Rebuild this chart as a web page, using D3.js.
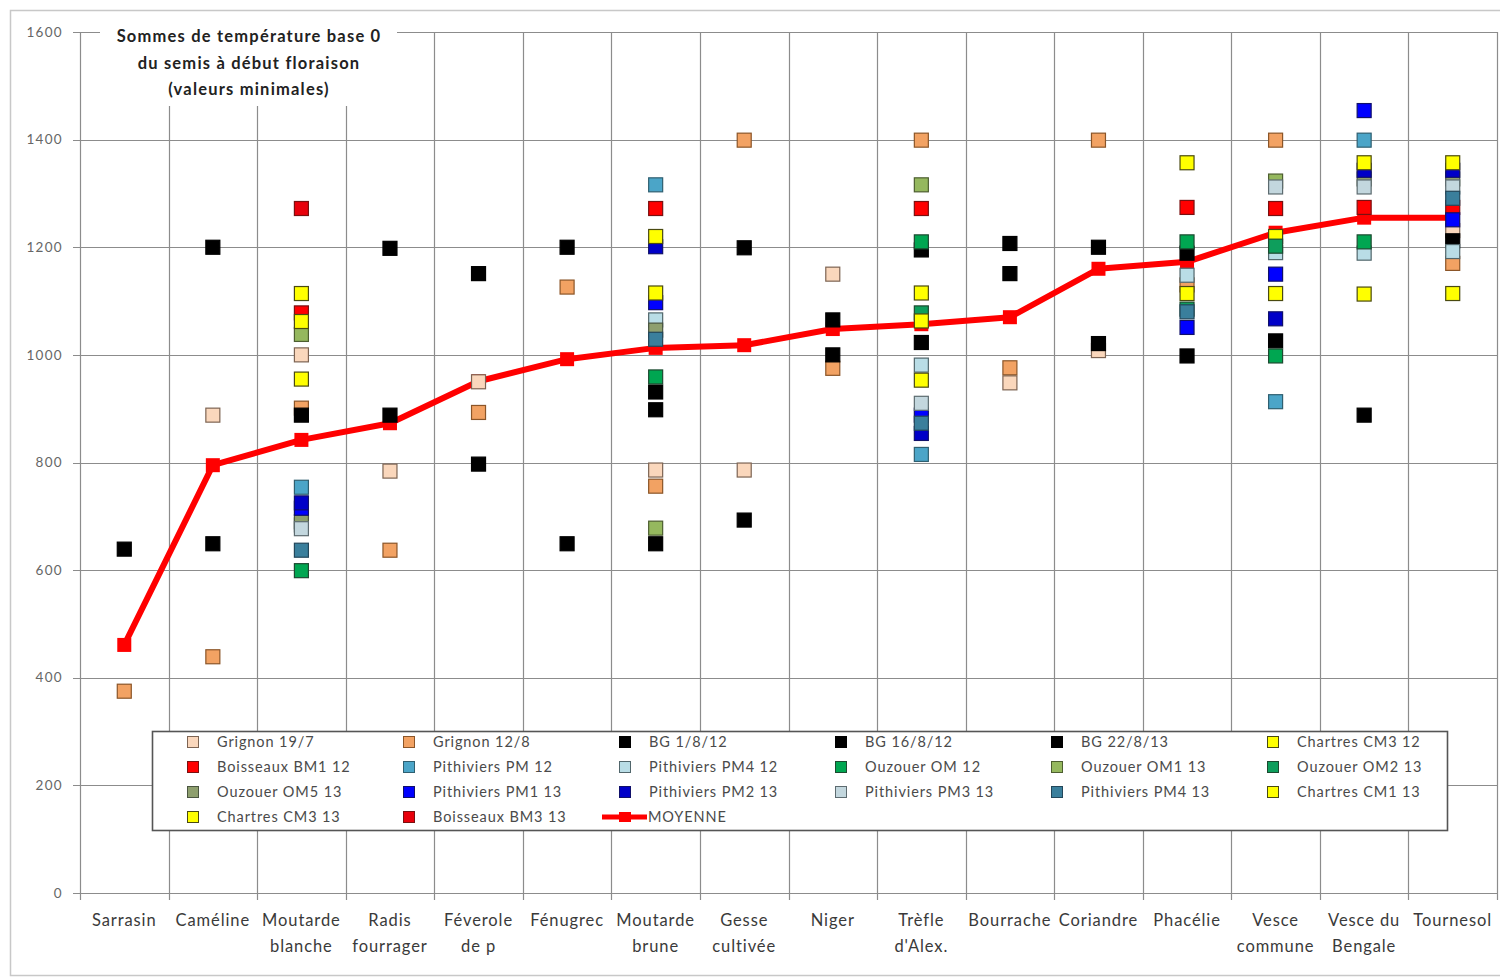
<!DOCTYPE html>
<html>
<head>
<meta charset="utf-8">
<script src="https://cdn.jsdelivr.net/npm/d3@7"></script>
<style>
  html, body { margin: 0; padding: 0; background: #fff; }
  svg { display: block; }
</style>
</head>
<body>
<svg id="chart" width="1500" height="980"></svg>
<script>
// Species (x categories), with their two-line axis labels
const categories = ["Sarrasin","Caméline","Moutarde blanche","Radis fourrager","Féverole de p","Fénugrec","Moutarde brune","Gesse cultivée","Niger","Trèfle d'Alex.","Bourrache","Coriandre","Phacélie","Vesce commune","Vesce du Bengale","Tournesol"];
const categoryLines = [["Sarrasin"],["Caméline"],["Moutarde","blanche"],["Radis","fourrager"],["Féverole","de p"],["Fénugrec"],["Moutarde","brune"],["Gesse","cultivée"],["Niger"],["Trèfle","d'Alex."],["Bourrache"],["Coriandre"],["Phacélie"],["Vesce","commune"],["Vesce du","Bengale"],["Tournesol"]];
const yTicks = [0, 200, 400, 600, 800, 1000, 1200, 1400, 1600];

const _ = null;
// Degree-day sums (base 0) from sowing to start of flowering, per trial
const grignon197     = [_, 888, 1000, 784, 950, _, 786, 786, 1150, _, 948, 1008, _, _, _, 1231];
const grignon128     = [375, 439, 901, 637, 893, 1126, 756, 1399, 975, 1399, 976, 1399, 1130, 1399, _, 1170];
const bg1812         = [639, 1200, 888, 1198, 1151, 1200, 898, 1199, 1065, 1195, 1207, 1200, 1189, 1026, 888, 1212];
const bg16812        = [_, 649, _, 888, 797, 649, 649, 693, 1000, 1023, 1151, 1021, 998, _, _, _];
const bg22813        = [_, _, _, _, _, _, 931, _, _, _, _, _, _, _, _, _];
const chartresCM312  = [_, _, 1114, _, _, _, _, _, _, 1115, _, _, 1357, 1220, _, _];
const boisseauxBM112 = [_, _, 1078, _, _, _, 1272, _, _, 1272, _, _, 1274, 1272, 1274, 1274];
const pithPM12       = [_, _, 754, _, _, _, 1316, _, _, 815, _, _, _, 913, 1399, _];
const pithPM412      = [_, _, 684, _, _, _, 1065, _, _, 981, _, _, 1148, 1190, 1189, 1192];
const ouzOM12        = [_, _, 599, _, _, _, 959, _, _, 1210, _, _, 1210, 998, 1210, _];
const ouzOM113       = [_, _, 1038, _, _, _, 678, _, _, 1316, _, _, _, 1323, _, _];
const ouzOM213       = [_, _, _, _, _, _, _, _, _, 1078, _, _, 1085, 1202, _, _];
const ouzOM513       = [_, _, 690, _, _, _, 1046, _, _, _, _, _, _, _, 1327, 1327];
const pithPM113      = [_, _, 715, _, _, _, 1097, _, _, 888, _, _, 1051, 1150, 1454, 1251];
const pithPM213      = [_, _, 725, _, _, _, 1201, _, _, 854, _, _, _, 1067, 1343, 1343];
const pithPM313      = [_, _, 677, _, _, _, _, _, _, 910, _, _, _, 1312, 1312, 1312];
const pithPM413      = [_, _, 637, _, _, _, 1029, _, _, 873, _, _, 1080, _, _, 1291];
const chartresCM113  = [_, _, 1062, _, _, _, 1220, _, _, 1063, _, _, 1114, 1114, 1113, 1114];
const chartresCM313  = [_, _, 955, _, _, _, 1115, _, _, 953, _, _, _, _, 1357, 1357];
const boisseauxBM313 = [_, _, 1272, _, _, _, _, _, _, _, _, _, _, _, _, _];
// Mean per species
const moyenne        = [461, 795, 842, 873, 951, 992, 1013, 1018, 1048, 1057, 1070, 1160, 1173, 1227, 1255, 1255];

const seriesNames = ["Grignon 19/7","Grignon 12/8","BG 1/8/12","BG 16/8/12","BG 22/8/13","Chartres CM3 12",
  "Boisseaux BM1 12","Pithiviers PM 12","Pithiviers PM4 12","Ouzouer OM 12","Ouzouer OM1 13","Ouzouer OM2 13",
  "Ouzouer OM5 13","Pithiviers PM1 13","Pithiviers PM2 13","Pithiviers PM3 13","Pithiviers PM4 13","Chartres CM1 13",
  "Chartres CM3 13","Boisseaux BM3 13"];
const seriesValues = [grignon197, grignon128, bg1812, bg16812, bg22813, chartresCM312,
  boisseauxBM112, pithPM12, pithPM412, ouzOM12, ouzOM113, ouzOM213,
  ouzOM513, pithPM113, pithPM213, pithPM313, pithPM413, chartresCM113,
  chartresCM313, boisseauxBM313];
const seriesFill = ["#FAD7BC","#F2A263","#000000","#000000","#000000","#FFFF00",
  "#FF0000","#4BA5C8","#B9DDE6","#00A651","#95B85E","#0E9E5C",
  "#8E9F6E","#0000FF","#0000C8","#C3D7DE","#3A7F9C","#FFFF00",
  "#FFFF00","#E8000B"];
const seriesStroke = ["#7d6453","#8b5528","#000000","#000000","#000000","#4a4a10",
  "#7a1010","#2f5f70","#51666b","#1c4a30","#4d5e30","#1c4a30",
  "#4a5540","#10106a","#10106a","#5d6b70","#23475a","#4a4a10",
  "#4a4a10","#7a1010"];

const W = 1500, H = 980;
const svg = d3.select("#chart");
const FONT = "Lato, 'Open Sans', sans-serif";

// Outer chart frame
svg.append("rect").attr("x", 10.5).attr("y", 10.5).attr("width", W).attr("height", 965)
  .attr("fill", "#fff").attr("stroke", "#c8c8c8").attr("stroke-width", 1.5);

const x = d3.scaleBand().domain(categories).range([80, 1497]).padding(0);
const y = d3.scaleLinear().domain([0, 1600]).range([893, 32]);

// Grid
const grid = svg.append("g").attr("stroke", "#8c8c8c").attr("stroke-width", 1.2);
grid.selectAll("line.h").data(yTicks).join("line")
  .attr("x1", 73).attr("x2", 1497)
  .attr("y1", d => Math.round(y(d)) + 0.5).attr("y2", d => Math.round(y(d)) + 0.5);
const bounds = categories.map(c => x(c)).concat([x.range()[1]]);
grid.selectAll("line.v").data(bounds).join("line")
  .attr("x1", d => Math.round(d) + 0.5).attr("x2", d => Math.round(d) + 0.5)
  .attr("y1", y(1600)).attr("y2", y(0) + 7);

// Y axis labels
svg.append("g").selectAll("text").data(yTicks).join("text")
  .attr("x", 63).attr("y", d => y(d)).attr("dy", "0.35em")
  .attr("text-anchor", "end").attr("font-family", FONT).attr("font-size", 13.5)
  .attr("letter-spacing", 1.3).attr("fill", "#666").text(d => d);

// X axis labels
const xl = svg.append("g").selectAll("text").data(categories).join("text")
  .attr("x", d => x(d) + x.bandwidth() / 2).attr("y", 926)
  .attr("text-anchor", "middle").attr("font-family", FONT).attr("font-size", 16.5)
  .attr("letter-spacing", 0.9).attr("fill", "#3a3a3a");
xl.each(function(d, i) {
  const t = d3.select(this);
  categoryLines[i].forEach((line, k) => {
    t.append("tspan").attr("x", x(d) + x.bandwidth() / 2).attr("dy", k === 0 ? 0 : 26).text(line);
  });
});

// Title box
svg.append("rect").attr("x", 100).attr("y", 19).attr("width", 297).attr("height", 87).attr("fill", "#fff");
const titleLines = ["Sommes de température base 0", "du semis à début floraison", "(valeurs minimales)"];
svg.append("g").selectAll("text").data(titleLines).join("text")
  .attr("x", 249).attr("y", (d, i) => 42 + i * 26.5)
  .attr("text-anchor", "middle").attr("font-family", FONT).attr("font-size", 16.5)
  .attr("font-weight", 700).attr("letter-spacing", 1.2).attr("fill", "#222").text(d => d);

// Mean line
const cx = c => x(c) + x.bandwidth() / 2;
const line = d3.line().x((d, i) => cx(categories[i])).y(d => y(d));
svg.append("path").datum(moyenne).attr("d", line)
  .attr("fill", "none").attr("stroke", "#FF0000").attr("stroke-width", 6).attr("stroke-linejoin", "round");
svg.append("g").selectAll("rect").data(moyenne).join("rect")
  .attr("x", (d, i) => cx(categories[i]) - 7).attr("y", d => y(d) - 7)
  .attr("width", 14).attr("height", 14).attr("fill", "#FF0000");

// Scatter series
const S = 14;
seriesValues.forEach((vals, si) => {
  svg.append("g").selectAll("rect")
    .data(vals.map((v, i) => ({ v, c: categories[i] })).filter(d => d.v !== null))
    .join("rect")
    .attr("x", d => cx(d.c) - S / 2).attr("y", d => y(d.v) - S / 2)
    .attr("width", S).attr("height", S)
    .attr("fill", seriesFill[si]).attr("stroke", seriesStroke[si]).attr("stroke-width", 1.2);
});

// Legend
const lg = svg.append("g");
lg.append("rect").attr("x", 152.5).attr("y", 731.5).attr("width", 1295).attr("height", 99)
  .attr("fill", "#fff").attr("stroke", "#555").attr("stroke-width", 1.6);
const legendItems = seriesNames.map((n, i) => ({ n, i })).concat([{ n: "MOYENNE", i: -1 }]);
legendItems.forEach((it, k) => {
  const col = k % 6, row = Math.floor(k / 6);
  const mx = 193 + col * 216, my = 742 + row * 25;
  if (it.i >= 0) {
    lg.append("rect").attr("x", mx - 5.5).attr("y", my - 5.5).attr("width", 11).attr("height", 11)
      .attr("fill", seriesFill[it.i]).attr("stroke", seriesStroke[it.i]).attr("stroke-width", 1);
  } else {
    lg.append("line").attr("x1", mx - 23).attr("x2", mx + 22).attr("y1", my).attr("y2", my)
      .attr("stroke", "#FF0000").attr("stroke-width", 5);
    lg.append("rect").attr("x", mx - 6).attr("y", my - 5).attr("width", 12).attr("height", 10).attr("fill", "#FF0000");
  }
  lg.append("text").attr("x", it.i >= 0 ? mx + 24 : mx + 23).attr("y", my).attr("dy", "0.36em")
    .attr("font-family", FONT).attr("font-size", 14.5).attr("letter-spacing", 0.9)
    .attr("fill", "#4a4a4a").text(it.n);
});
</script>
</body>
</html>
